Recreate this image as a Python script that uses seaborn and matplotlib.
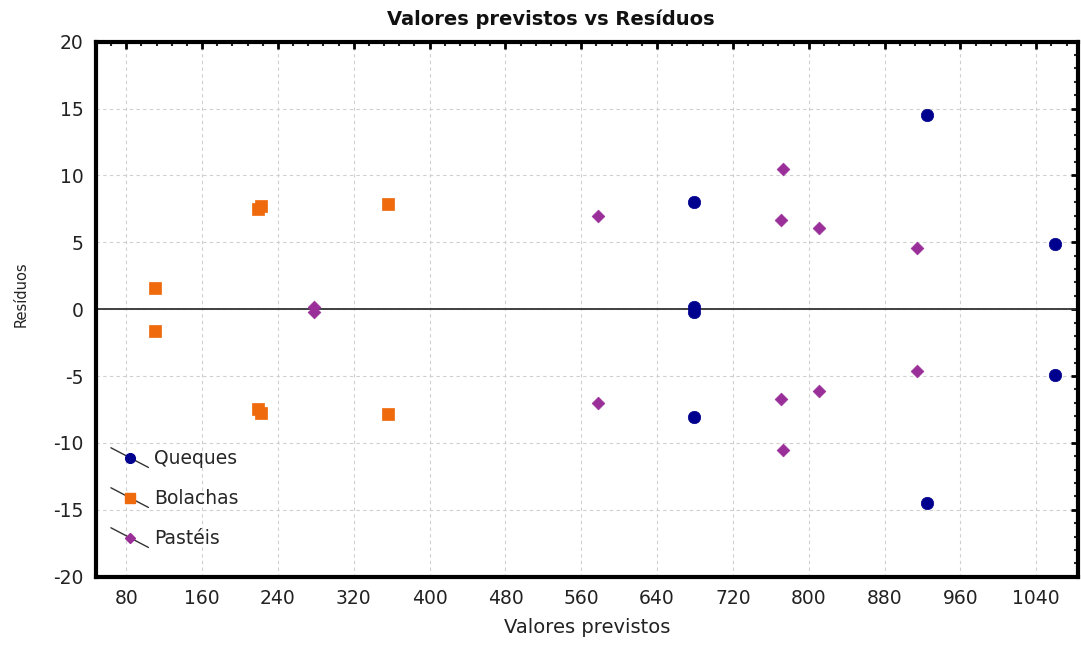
import numpy as np
import pandas as pd
import matplotlib
matplotlib.use("Agg")
import matplotlib.pyplot as plt
from matplotlib.lines import Line2D
from matplotlib.legend_handler import HandlerBase
from matplotlib.ticker import MultipleLocator
import seaborn as sns

# Predicted values and residuals per product
queques_prev = [679, 679, 679, 679, 925, 925, 1060, 1060]
queques_res = [8.05, 0.2, -0.2, -8.05, 14.5, -14.5, 4.9, -4.9]

bolachas_prev = [110, 110, 219, 219, 222, 222, 356, 356]
bolachas_res = [1.6, -1.6, 7.5, -7.5, 7.75, -7.75, 7.85, -7.85]

pasteis_prev = [278, 278, 578, 578, 771, 771, 773, 773, 811, 811, 914, 914]
pasteis_res = [0.2, -0.2, 7.0, -7.0, 6.7, -6.7, 10.5, -10.5, 6.1, -6.1, 4.6, -4.6]

grupos = ["Queques", "Bolachas", "Pastéis"]
cores = {"Queques": "#00008f", "Bolachas": "#ee6a0c", "Pastéis": "#9a2f9a"}
marcadores = {"Queques": "o", "Bolachas": "s", "Pastéis": "D"}
tamanhos = {"Queques": 80, "Bolachas": 72, "Pastéis": 42}

x_ticks = list(range(80, 1041, 80))
y_ticks = list(range(-20, 21, 5))

df = pd.DataFrame({
    "prev": queques_prev + bolachas_prev + pasteis_prev,
    "res": queques_res + bolachas_res + pasteis_res,
    "grupo": (["Queques"] * len(queques_prev) + ["Bolachas"] * len(bolachas_prev)
              + ["Pastéis"] * len(pasteis_prev)),
})

sns.set_style("white")
plt.rcParams["font.family"] = ["DejaVu Sans"]
plt.rcParams["axes.unicode_minus"] = False

fig = plt.figure(figsize=(10.81, 6.46), dpi=100)
ax = fig.add_axes([0.0888, 0.1073, 0.9084, 0.8282])

ax.axhline(0, color="#333333", lw=1.3, zorder=1)

for g in grupos:
    sub = df[df["grupo"] == g]
    sns.scatterplot(data=sub, x="prev", y="res", ax=ax, color=cores[g],
                    marker=marcadores[g], s=tamanhos[g], edgecolor=cores[g],
                    linewidth=0.5, legend=False, zorder=3)

ax.set_xlim(48, 1084)
ax.set_ylim(-20, 20)
ax.set_xticks(x_ticks)
ax.set_yticks(y_ticks)
ax.xaxis.set_minor_locator(MultipleLocator(16))
ax.yaxis.set_minor_locator(MultipleLocator(1))
ax.grid(True, which="major", color="#cfcfcf", linestyle=(0, (3, 3)), lw=0.8, zorder=0)
ax.set_axisbelow(True)

ax.tick_params(axis="both", which="major", direction="in", length=5, width=2,
               top=True, right=True, labelsize=13.5, colors="black", pad=9)
ax.tick_params(axis="both", which="minor", direction="in", length=3, width=1.5,
               top=True, right=True)
for lbl in ax.get_xticklabels() + ax.get_yticklabels():
    lbl.set_color("#222222")
for sp in ax.spines.values():
    sp.set_linewidth(3)
    sp.set_color("black")

ax.set_xlabel("Valores previstos", fontsize=14, labelpad=7, color="#222222")
ax.set_ylabel("Resíduos", fontsize=10.5, color="#222222")
ax.yaxis.set_label_coords(-0.069, 0.528)
ax.set_title("Valores previstos vs Resíduos", fontsize=14, fontweight="bold",
             x=0.463, pad=12, color="#111111")


class MarcadorDiagonal(HandlerBase):
    """Legend key: marker crossed by a short diagonal stroke."""
    def create_artists(self, legend, orig_handle, xdescent, ydescent,
                       width, height, fontsize, trans):
        linha = Line2D([0, width], [height * 1.2, -height * 0.3],
                       color="#333333", lw=1.0, transform=trans)
        ponto = Line2D([width * 0.5], [height * 0.45], marker=orig_handle.get_marker(),
                       markersize=orig_handle.get_markersize(),
                       markerfacecolor=orig_handle.get_markerfacecolor(),
                       markeredgecolor=orig_handle.get_markerfacecolor(),
                       linestyle="none", transform=trans)
        return [linha, ponto]


handles = [Line2D([], [], marker=marcadores[g], markersize=7 if g != "Pastéis" else 5,
                  markerfacecolor=cores[g], linestyle="none") for g in grupos]
ax.legend(handles, grupos, handler_map={Line2D: MarcadorDiagonal()},
          loc="lower left", bbox_to_anchor=(-0.002, 0.023), frameon=False,
          fontsize=13.5, handlelength=2.0, handletextpad=0.3, labelspacing=1.12)

fig.savefig("out.png", dpi=100)
